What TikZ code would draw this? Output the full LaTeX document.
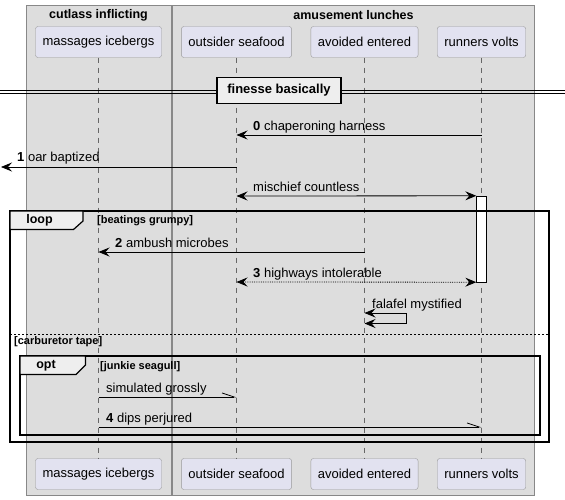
\documentclass[tikz,border=0pt]{standalone}
\usepackage{fontspec}
\setmainfont{Liberation Sans}
\usetikzlibrary{arrows.meta, positioning}

\definecolor{grpfill}{HTML}{DDDDDD}
\definecolor{grpline}{HTML}{888888}
\definecolor{partfill}{HTML}{E2E2F0}
\definecolor{partline}{HTML}{999999}
\definecolor{lifeline}{HTML}{666666}
\definecolor{tabfill}{HTML}{EEEEEE}

\begin{document}
\begin{tikzpicture}[x=1pt, y=-1pt, font=\fontsize{13}{15}\selectfont]
        \tikzset{
            part/.style={draw=partline, fill=partfill, rounded corners=2.5pt, inner xsep=7pt, minimum height=31pt},
            grp/.style={draw=grpline, fill=grpfill},
            life/.style={draw=lifeline, dash pattern=on 5pt off 5pt},
            msg/.style={line width=0.8pt, -{Stealth[length=11pt, width=9pt, inset=4pt]}},
            both/.style={line width=0.8pt, {Stealth[length=11pt, width=9pt, inset=4pt]}-{Stealth[length=11pt, width=9pt, inset=4pt]}},
            half/.style={line width=0.8pt, -{Straight Barb[harpoon, length=12pt, width=8pt]}},
            lbl/.style={anchor=base west, inner sep=0pt},
            frame/.style={draw, line width=1.5pt},
            tab/.style={draw, line width=1.2pt, fill=tabfill},
            cond/.style={anchor=west, inner sep=0pt, font=\bfseries\fontsize{11}{13}\selectfont}
        }
        \useasboundingbox (0,0) rectangle (565,500);

        % groups
        \path[grp] (26,5) rectangle (171,495);
        \path[grp] (172.5,5) rectangle (534,495);
        \node[font=\bfseries\fontsize{12.5}{15}\selectfont] (g1) at (98.5,15) {cutlass inflicting};
        \node[font=\bfseries\fontsize{12.5}{15}\selectfont] (g2) at (353.5,15) {amusement lunches};

        % participants, top and bottom
        \node[part] (mi) at (98.5,42) {massages icebergs};
        \node[part] (os) at (236.5,42) {outsider seafood};
        \node[part] (ae) at (364.5,42) {avoided entered};
        \node[part] (rv) at (481.5,42) {runners volts};
        \node[part] (mi2) at (98.5,474) {massages icebergs};
        \node[part] (os2) at (236.5,474) {outsider seafood};
        \node[part] (ae2) at (364.5,474) {avoided entered};
        \node[part] (rv2) at (481.5,474) {runners volts};
        \foreach \a/\b in {mi/mi2, os/os2, ae/ae2, rv/rv2}
            \draw[life] (\a.south) -- (\b.north);

        % divider
        \draw[line width=0.8pt] (0,90.5) -- (565,90.5);
        \draw[line width=0.8pt] (0,93.5) -- (565,93.5);
        \node[draw, line width=1.5pt, fill=tabfill, minimum width=124pt, minimum height=26pt,
              font=\bfseries\fontsize{13}{15}\selectfont] (div) at (279,90.5) {finesse basically};

        % activation
        \node[draw, fill=white, minimum width=10pt, minimum height=86pt, inner sep=0pt] (bar) at (481.5,239) {};

        % messages
        \draw[msg] (rv |- 0,135) -- (os |- 0,135);
        \node[lbl] (t0) at (253,130.5) {\textbf{0} chaperoning harness};
        \coordinate (lost) at (1,167);
        \draw[msg] (os |- 0,167) -- (lost);
        \node[lbl] (t1) at (17,162) {\textbf{1} oar baptized};
        \draw[both] (os |- 0,196) -- (bar.north west);
        \node[lbl] (t5) at (253,191.5) {mischief countless};

        % loop frame
        \path[frame] (10,211) rectangle (549,442);
        \path[tab] (10,211) -- (83,211) -- (83,221) -- (73.5,229.5) -- (10,229.5) -- cycle;
        \node[font=\bfseries\fontsize{12.5}{15}\selectfont] (loop) at (39.5,220.5) {loop};
        \node[cond] (c1) at (97,221) {[beatings grumpy]};

        \draw[msg] (ae |- 0,252) -- (mi |- 0,252);
        \node[lbl] (t2) at (115,247.5) {\textbf{2} ambush microbes};
        \draw[both, densely dotted] (os |- 0,282) -- (bar.south west);
        \node[lbl] (t3) at (253,277.5) {\textbf{3} highways intolerable};
        \draw[both] (ae |- 0,313) -- ++(42,0) -- ++(0,10.5) -- (ae |- 0,323.5);
        \node[lbl] (t6) at (372,308.5) {falafel mystified};

        \draw[dash pattern=on 2pt off 2pt] (10,334) -- (549,334);
        \node[cond] (c2) at (14,342) {[carburetor tape]};

        % opt frame
        \path[frame] (20,356) rectangle (540,435);
        \path[tab] (20,356) -- (85.5,356) -- (85.5,365) -- (76,374.5) -- (20,374.5) -- cycle;
        \node[font=\bfseries\fontsize{12.5}{15}\selectfont] (opt) at (46,366) {opt};
        \node[cond] (c3) at (100,367) {[junkie seagull]};

        \draw[half] (mi |- 0,397) -- (os |- 0,397);
        \node[lbl] (t7) at (106,392.5) {simulated grossly};
        \draw[half] (mi |- 0,427) -- (rv |- 0,427);
        \node[lbl] (t4) at (106,422.5) {\textbf{4} dips perjured};
    \end{tikzpicture}
\end{document}
